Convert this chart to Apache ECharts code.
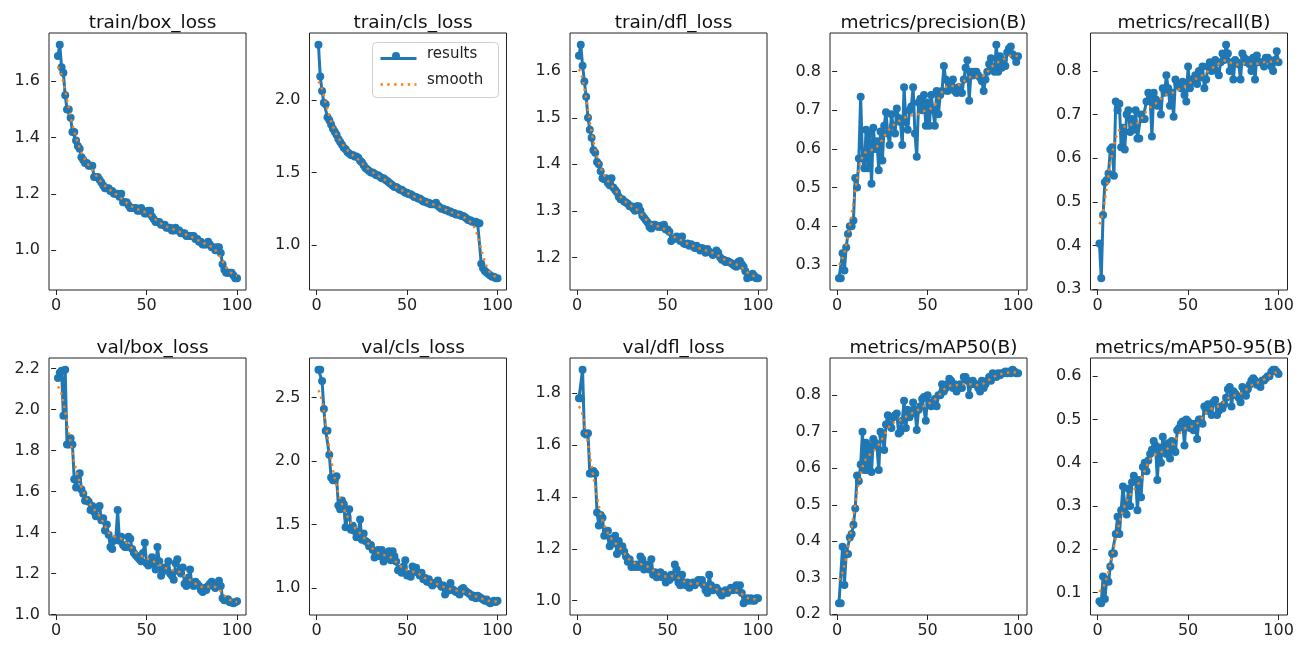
<!DOCTYPE html>
<html>
<head>
<meta charset="utf-8">
<script src="https://cdn.jsdelivr.net/npm/echarts@6/dist/echarts.min.js"></script>
<style>
html,body{margin:0;padding:0;background:#fff;}
#chart{width:1304px;height:647px;}
</style>
</head>
<body>
<div id="chart"></div>
<script>
// ---------- data ----------
const titles = ["train/box_loss","train/cls_loss","train/dfl_loss","metrics/precision(B)","metrics/recall(B)",
                "val/box_loss","val/cls_loss","val/dfl_loss","metrics/mAP50(B)","metrics/mAP50-95(B)"];
const xTicks = [0, 50, 100];

const trainBox = [1.69,1.73,1.65,1.63,1.55,1.50,1.50,1.47,1.42,1.42,1.39,1.37,1.36,1.33,1.32,1.31,1.31,1.30,1.30,1.30,
1.26,1.26,1.26,1.25,1.24,1.23,1.22,1.22,1.22,1.21,1.21,1.20,1.20,1.20,1.19,1.20,1.17,1.17,1.17,1.16,
1.15,1.15,1.15,1.15,1.14,1.14,1.15,1.14,1.13,1.13,1.14,1.14,1.12,1.11,1.10,1.10,1.10,1.09,1.09,1.09,
1.08,1.08,1.08,1.07,1.07,1.08,1.07,1.07,1.06,1.06,1.06,1.05,1.05,1.05,1.05,1.05,1.04,1.04,1.03,1.03,
1.02,1.02,1.02,1.03,1.02,1.01,1.01,1.00,1.01,1.01,0.99,0.95,0.93,0.92,0.92,0.92,0.92,0.91,0.90,0.90];
const trainCls = [2.38,2.16,2.06,1.98,1.97,1.88,1.86,1.83,1.80,1.78,1.76,1.73,1.71,1.69,1.67,1.66,1.64,1.63,1.62,1.62,
1.61,1.61,1.60,1.58,1.57,1.55,1.53,1.52,1.51,1.50,1.50,1.49,1.48,1.48,1.47,1.46,1.46,1.45,1.44,1.43,
1.42,1.41,1.40,1.40,1.39,1.38,1.38,1.37,1.36,1.36,1.35,1.35,1.34,1.33,1.33,1.32,1.32,1.31,1.30,1.30,
1.29,1.29,1.28,1.28,1.28,1.29,1.27,1.26,1.25,1.25,1.24,1.24,1.23,1.23,1.22,1.22,1.21,1.21,1.21,1.20,
1.20,1.19,1.18,1.17,1.17,1.16,1.16,1.16,1.15,1.15,0.87,0.84,0.82,0.81,0.80,0.79,0.78,0.78,0.77,0.77];
const trainDfl = [1.633,1.657,1.612,1.578,1.545,1.500,1.474,1.457,1.430,1.425,1.405,1.400,1.385,1.370,1.368,1.370,1.360,1.355,1.370,1.350,
1.345,1.340,1.330,1.325,1.325,1.320,1.318,1.315,1.310,1.310,1.305,1.300,1.310,1.310,1.300,1.290,1.285,1.280,1.275,1.265,
1.262,1.270,1.270,1.268,1.265,1.268,1.265,1.270,1.260,1.260,1.255,1.235,1.240,1.240,1.245,1.240,1.235,1.245,1.230,1.228,
1.230,1.225,1.228,1.225,1.220,1.225,1.220,1.215,1.220,1.218,1.210,1.218,1.212,1.210,1.205,1.210,1.215,1.210,1.200,1.195,
1.195,1.190,1.192,1.190,1.188,1.185,1.182,1.180,1.190,1.192,1.185,1.180,1.170,1.155,1.160,1.158,1.165,1.160,1.155,1.155];
const precision = [0.265,0.265,0.33,0.285,0.345,0.38,0.40,0.40,0.415,0.525,0.50,0.575,0.735,0.575,0.55,0.65,0.55,0.64,0.51,0.655,
0.60,0.62,0.545,0.645,0.57,0.66,0.695,0.64,0.61,0.69,0.66,0.64,0.705,0.68,0.67,0.61,0.76,0.67,0.65,0.70,
0.71,0.76,0.64,0.58,0.72,0.73,0.70,0.74,0.66,0.72,0.66,0.74,0.70,0.66,0.75,0.69,0.74,0.75,0.815,0.78,
0.75,0.77,0.76,0.78,0.75,0.745,0.76,0.76,0.745,0.78,0.81,0.83,0.725,0.80,0.79,0.80,0.80,0.79,0.785,0.775,
0.75,0.78,0.80,0.82,0.835,0.81,0.80,0.87,0.80,0.84,0.81,0.83,0.815,0.85,0.86,0.865,0.845,0.84,0.825,0.84];
const recall = [0.405,0.325,0.47,0.545,0.55,0.565,0.62,0.625,0.56,0.73,0.71,0.725,0.625,0.67,0.62,0.70,0.71,0.66,0.69,0.665,
0.71,0.645,0.645,0.70,0.69,0.69,0.73,0.75,0.74,0.65,0.75,0.735,0.72,0.73,0.70,0.76,0.75,0.79,0.76,0.72,
0.75,0.695,0.78,0.77,0.765,0.76,0.775,0.745,0.73,0.81,0.76,0.78,0.775,0.79,0.77,0.80,0.785,0.81,0.76,0.78,
0.81,0.82,0.80,0.815,0.825,0.80,0.79,0.82,0.84,0.825,0.86,0.84,0.80,0.82,0.78,0.825,0.82,0.815,0.78,0.84,
0.83,0.82,0.825,0.815,0.80,0.83,0.78,0.835,0.82,0.82,0.82,0.81,0.83,0.83,0.825,0.81,0.80,0.825,0.845,0.82];
const valBox = [2.155,2.18,2.19,1.97,2.195,1.83,1.83,1.86,1.83,1.66,1.62,1.66,1.69,1.61,1.59,1.555,1.56,1.55,1.51,1.53,
1.50,1.48,1.52,1.53,1.46,1.47,1.41,1.44,1.39,1.33,1.32,1.36,1.37,1.51,1.36,1.38,1.34,1.33,1.33,1.38,
1.37,1.32,1.30,1.29,1.28,1.27,1.26,1.30,1.35,1.25,1.24,1.26,1.28,1.25,1.22,1.33,1.26,1.19,1.21,1.23,
1.23,1.26,1.20,1.19,1.17,1.25,1.27,1.21,1.20,1.23,1.15,1.14,1.18,1.22,1.15,1.14,1.16,1.15,1.14,1.12,
1.11,1.13,1.12,1.14,1.15,1.16,1.14,1.13,1.14,1.165,1.14,1.08,1.07,1.07,1.075,1.06,1.06,1.055,1.06,1.065];
const valCls = [2.72,2.72,2.63,2.41,2.24,2.24,2.05,1.87,1.85,1.85,1.88,1.65,1.62,1.69,1.66,1.48,1.56,1.62,1.46,1.49,
1.45,1.40,1.44,1.54,1.38,1.43,1.37,1.36,1.33,1.34,1.30,1.24,1.27,1.30,1.25,1.30,1.21,1.25,1.26,1.29,
1.22,1.29,1.25,1.21,1.14,1.15,1.12,1.17,1.22,1.10,1.11,1.09,1.17,1.13,1.16,1.12,1.10,1.12,1.07,1.08,
1.05,1.07,1.04,1.02,1.04,1.04,1.06,1.03,1.01,1.02,0.95,1.00,0.98,1.04,0.99,0.98,0.97,0.97,0.95,0.99,
1.00,0.98,0.97,0.96,0.95,0.93,0.94,0.92,0.94,0.93,0.92,0.91,0.90,0.91,0.89,0.88,0.89,0.90,0.89,0.90];
const valDfl = [1.78,1.78,1.89,1.645,1.64,1.645,1.49,1.49,1.50,1.49,1.34,1.29,1.33,1.32,1.25,1.27,1.27,1.21,1.24,1.22,
1.25,1.18,1.23,1.20,1.21,1.19,1.17,1.15,1.16,1.13,1.14,1.13,1.14,1.13,1.17,1.16,1.12,1.14,1.13,1.12,
1.16,1.10,1.11,1.09,1.10,1.11,1.09,1.10,1.07,1.09,1.08,1.10,1.09,1.14,1.12,1.07,1.06,1.10,1.07,1.06,
1.07,1.05,1.06,1.07,1.06,1.07,1.08,1.07,1.08,1.06,1.04,1.03,1.10,1.06,1.04,1.05,1.05,1.04,1.03,1.02,
1.03,1.04,1.03,1.04,1.05,1.04,1.05,1.06,1.04,1.06,1.03,0.99,1.00,1.01,1.00,1.01,1.00,1.00,1.01,1.01];
const mAP50 = [0.23,0.23,0.385,0.28,0.365,0.365,0.41,0.42,0.445,0.49,0.58,0.565,0.61,0.70,0.595,0.67,0.595,0.66,0.59,0.68,
0.67,0.66,0.595,0.70,0.69,0.65,0.72,0.745,0.72,0.71,0.74,0.745,0.75,0.695,0.70,0.73,0.785,0.71,0.76,0.74,
0.75,0.78,0.76,0.705,0.76,0.77,0.79,0.795,0.73,0.80,0.78,0.77,0.78,0.79,0.77,0.80,0.80,0.83,0.81,0.82,
0.83,0.845,0.84,0.82,0.83,0.81,0.82,0.83,0.82,0.85,0.85,0.84,0.80,0.83,0.84,0.83,0.83,0.82,0.81,0.84,
0.82,0.83,0.84,0.85,0.84,0.86,0.855,0.85,0.86,0.855,0.86,0.86,0.865,0.86,0.865,0.86,0.87,0.865,0.86,0.86];
const mAP5095 = [0.08,0.075,0.137,0.085,0.13,0.125,0.16,0.19,0.19,0.235,0.275,0.235,0.29,0.345,0.305,0.28,0.34,0.30,0.355,0.37,
0.36,0.29,0.36,0.32,0.39,0.40,0.38,0.405,0.42,0.43,0.45,0.44,0.36,0.435,0.40,0.46,0.43,0.42,0.445,0.41,
0.45,0.43,0.425,0.475,0.48,0.49,0.495,0.44,0.50,0.495,0.48,0.49,0.475,0.49,0.455,0.50,0.50,0.49,0.53,0.52,
0.535,0.53,0.51,0.54,0.545,0.51,0.52,0.53,0.525,0.535,0.55,0.57,0.575,0.53,0.565,0.56,0.555,0.55,0.54,0.575,
0.565,0.555,0.57,0.58,0.59,0.595,0.59,0.58,0.58,0.575,0.59,0.59,0.595,0.60,0.60,0.61,0.615,0.615,0.61,0.605];

const seriesValues = [trainBox, trainCls, trainDfl, precision, recall, valBox, valCls, valDfl, mAP50, mAP5095];
const yTicks = [
  [1.0,1.2,1.4,1.6],
  [1.0,1.5,2.0],
  [1.2,1.3,1.4,1.5,1.6],
  [0.3,0.4,0.5,0.6,0.7,0.8],
  [0.3,0.4,0.5,0.6,0.7,0.8],
  [1.0,1.2,1.4,1.6,1.8,2.0,2.2],
  [1.0,1.5,2.0,2.5],
  [1.0,1.2,1.4,1.6,1.8],
  [0.2,0.3,0.4,0.5,0.6,0.7,0.8],
  [0.1,0.2,0.3,0.4,0.5,0.6]
];

// ---------- helpers ----------
const epochs = seriesValues[0].map((_, i) => i + 1);

// same "smooth" curve as the source plot: Gaussian filter (sigma=3, reflect edges) of the results
function gaussianSmooth(y, sigma) {
  const r = Math.floor(4 * sigma + 0.5);
  const w = [];
  let s = 0;
  for (let k = -r; k <= r; k++) { const v = Math.exp(-0.5 * (k / sigma) ** 2); w.push(v); s += v; }
  const n = y.length;
  const idx = (i) => { while (i < 0 || i >= n) { if (i < 0) i = -i - 1; if (i >= n) i = 2 * n - i - 1; } return i; };
  return y.map((_, i) => { let acc = 0; for (let k = -r; k <= r; k++) acc += w[k + r] * y[idx(i + k)]; return acc / s; });
}

const BLUE = '#1f77b4', ORANGE = '#ff7f0e';
const FONT = 'DejaVu Sans';
const colLeft = [49, 309.5, 570, 830, 1090.5];
const rowTop = [33, 358];
const gw = 197, gh = 257;

const grids = [], xAxes = [], yAxes = [], series = [], titleOpts = [];
seriesValues.forEach((vals, i) => {
  const r = Math.floor(i / 5), c = i % 5;
  grids.push({ left: colLeft[c], top: rowTop[r], width: gw, height: gh, show: true,
               borderColor: '#222', borderWidth: 1, backgroundColor: 'transparent' });
  const sm = gaussianSmooth(vals, 3);
  const all = vals.concat(sm);
  const lo = Math.min(...all), hi = Math.max(...all), pad = (hi - lo) * 0.05;
  xAxes.push({ type: 'value', gridIndex: i, min: -3.95, max: 104.95,
    axisLine: { show: false }, splitLine: { show: false },
    axisTick: { show: true, length: 5, inside: false, customValues: xTicks, lineStyle: { color: '#222' } },
    axisLabel: { customValues: xTicks, fontFamily: FONT, fontSize: 16, color: '#222', margin: 8 } });
  yAxes.push({ type: 'value', gridIndex: i, min: lo - pad, max: hi + pad, scale: true,
    axisLine: { show: false }, splitLine: { show: false },
    axisTick: { show: true, length: 5, inside: false, customValues: yTicks[i], lineStyle: { color: '#222' } },
    axisLabel: { customValues: yTicks[i], fontFamily: FONT, fontSize: 16, color: '#222', margin: 9,
                 formatter: (v) => v.toFixed(1) } });
  series.push({ name: 'results', type: 'line', xAxisIndex: i, yAxisIndex: i,
    data: epochs.map((e, k) => [e, vals[k]]),
    symbol: 'circle', symbolSize: 8, showSymbol: true,
    lineStyle: { color: BLUE, width: 3 }, itemStyle: { color: BLUE, borderWidth: 0 },
    emphasis: { disabled: true }, animation: false, z: 2 });
  series.push({ name: 'smooth', type: 'line', xAxisIndex: i, yAxisIndex: i,
    data: epochs.map((e, k) => [e, sm[k]]),
    symbol: 'none', showSymbol: false,
    lineStyle: { color: ORANGE, width: 2.4, type: [2.4, 4.4] }, itemStyle: { color: ORANGE },
    emphasis: { disabled: true }, animation: false, z: 3 });
  titleOpts.push({ text: titles[i], left: colLeft[c] + gw / 2, top: r === 0 ? 9 : 334, textAlign: 'center',
    textStyle: { fontFamily: FONT, fontSize: 18.5, fontWeight: 'normal', color: '#111' } });
});

const chart = echarts.init(document.getElementById('chart'), null, { renderer: 'canvas' });
chart.setOption({
  backgroundColor: '#fff',
  animation: false,
  title: titleOpts,
  grid: grids,
  xAxis: xAxes,
  yAxis: yAxes,
  series: series,
  graphic: [
    { type: 'rect', left: 372, top: 42, shape: { width: 126, height: 55, r: 4 },
      style: { fill: 'rgba(255,255,255,0.85)', stroke: '#d0d0d0', lineWidth: 1 }, z: 100 },
    { type: 'line', left: 378, top: 56, shape: { x1: 0, y1: 0, x2: 36, y2: 0 },
      style: { stroke: BLUE, lineWidth: 3 }, z: 101 },
    { type: 'circle', left: 392, top: 52, shape: { r: 4 }, style: { fill: BLUE }, z: 102 },
    { type: 'line', left: 378, top: 82, shape: { x1: 0, y1: 0, x2: 36, y2: 0 },
      style: { stroke: ORANGE, lineWidth: 2.4, lineDash: [2.4, 4.4] }, z: 101 },
    { type: 'text', left: 427, top: 47, style: { text: 'results', fontFamily: FONT, fontSize: 15, fill: '#222' }, z: 101 },
    { type: 'text', left: 427, top: 73, style: { text: 'smooth', fontFamily: FONT, fontSize: 15, fill: '#222' }, z: 101 }
  ]
});
</script>
</body>
</html>
